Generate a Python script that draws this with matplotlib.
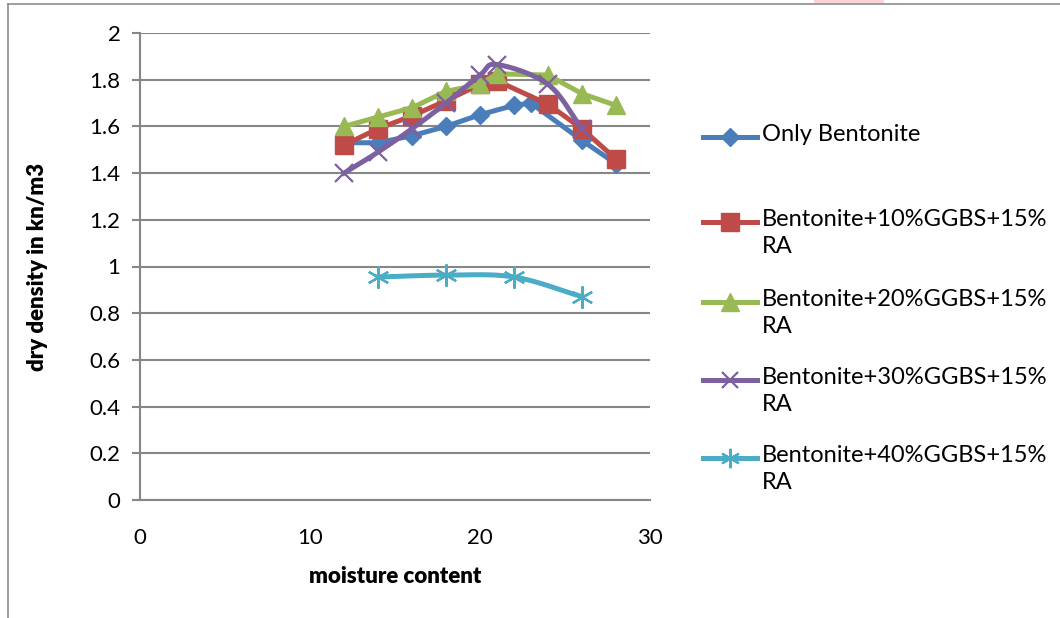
import numpy as np
import matplotlib.pyplot as plt
from matplotlib.lines import Line2D
from matplotlib.patches import Rectangle

plt.rcParams['font.family'] = ['Lato', 'DejaVu Sans']

# ---- data ----
x_only = [12, 14, 16, 18, 20, 22, 23, 26, 28]
y_only = [1.53, 1.53, 1.56, 1.60, 1.65, 1.69, 1.70, 1.54, 1.44]

x_10 = [12, 14, 16, 18, 20, 21, 24, 26, 28]
y_10 = [1.52, 1.59, 1.645, 1.71, 1.78, 1.795, 1.695, 1.59, 1.46]

x_20 = [12, 14, 16, 18, 20, 21, 24, 26, 28]
y_20 = [1.60, 1.64, 1.68, 1.75, 1.78, 1.825, 1.82, 1.74, 1.69]

x_30 = [12, 14, 16, 18, 20, 21, 24, 26]
y_30 = [1.40, 1.49, 1.59, 1.70, 1.82, 1.865, 1.78, 1.59]

x_40 = [14, 18, 22, 26]
y_40 = [0.955, 0.963, 0.955, 0.871]

labels = ['Only Bentonite', 'Bentonite+10%GGBS+15%\nRA', 'Bentonite+20%GGBS+15%\nRA',
          'Bentonite+30%GGBS+15%\nRA', 'Bentonite+40%GGBS+15%\nRA']
colors = ['#4A7EBB', '#BE4B48', '#98B954', '#7D60A0', '#4BACC6']


def smooth(xs, ys, n=30):
    # catmull-rom style curve through the points, like excel's smoothed line
    xs = np.asarray(xs, float)
    ys = np.asarray(ys, float)
    px = np.concatenate([[2 * xs[0] - xs[1]], xs, [2 * xs[-1] - xs[-2]]])
    py = np.concatenate([[2 * ys[0] - ys[1]], ys, [2 * ys[-1] - ys[-2]]])
    ox, oy = [], []
    t = np.linspace(0, 1, n)
    for i in range(1, len(px) - 2):
        for p, out in ((px, ox), (py, oy)):
            p0, p1, p2, p3 = p[i - 1], p[i], p[i + 1], p[i + 2]
            out.extend(0.5 * (2 * p1 + (-p0 + p2) * t + (2 * p0 - 5 * p1 + 4 * p2 - p3) * t ** 2
                              + (-p0 + 3 * p1 - 3 * p2 + p3) * t ** 3))
    return ox, oy


fig = plt.figure(figsize=(10.6, 6.18), dpi=100)
ax = fig.add_axes([140 / 1060, 1 - 500 / 618, 510 / 1060, 467 / 618])

lw = 3.6
ax.plot(x_only, y_only, color=colors[0], lw=lw, marker='D', ms=9, zorder=3)
ax.plot(x_10, y_10, color=colors[1], lw=lw, marker='s', ms=13, zorder=3)
ax.plot(x_20, y_20, color=colors[2], lw=lw, marker='^', ms=13, zorder=3)
sx, sy = smooth(x_30, y_30)
ax.plot(sx, sy, color=colors[3], lw=lw, zorder=4)
ax.plot(x_30, y_30, ls='none', color=colors[3], marker='x', ms=13, mew=1.6, zorder=4)
sx, sy = smooth(x_40, y_40)
ax.plot(sx, sy, color=colors[4], lw=lw, zorder=3)
ax.plot(x_40, y_40, ls='none', color=colors[4], marker=(6, 2, 0), ms=16, mew=1.6, zorder=3)

ax.set_xlim(0, 30)
ax.set_ylim(0, 2)
ax.set_xticks([0, 10, 20, 30])
ax.set_yticks(np.arange(0, 2.01, 0.2))
ax.set_yticklabels(['0', '0.2', '0.4', '0.6', '0.8', '1', '1.2', '1.4', '1.6', '1.8', '2'])
ax.yaxis.grid(True, color='#868686', lw=1.5)
ax.set_axisbelow(True)
for s in ['top', 'right']:
    ax.spines[s].set_visible(False)
for s in ['left', 'bottom']:
    ax.spines[s].set_color('#868686')
    ax.spines[s].set_linewidth(1.5)
ax.tick_params(axis='y', length=6, color='#868686', width=1.5, labelsize=16, pad=8)
ax.tick_params(axis='x', length=0, labelsize=16, pad=20)
ax.set_xlabel('moisture content', fontsize=16, fontweight='heavy', labelpad=13)
ax.set_ylabel('dry density in kn/m3', fontsize=16, fontweight='heavy', labelpad=30)

# legend drawn by hand: marker line beside the first text line
leg_y = [137, 222, 302, 380, 458]
mk = [('D', 9, 1), ('s', 13, 1), ('^', 13, 1), ('x', 12, 1.6), ((6, 2, 0), 14, 1.6)]
for i in range(5):
    yf = 1 - leg_y[i] / 618
    fig.add_artist(Line2D([703 / 1060, 757 / 1060], [yf, yf], color=colors[i], lw=lw))
    fig.add_artist(Line2D([730 / 1060], [yf], color=colors[i], marker=mk[i][0], ms=mk[i][1],
                          mew=mk[i][2], ls='none'))
    fig.text(762 / 1060, yf + 13 / 618, labels[i], fontsize=17, va='top', ha='left',
             linespacing=1.38)

# outer chart frame and crop leftover
fig.add_artist(Line2D([8 / 1060, 8 / 1060], [0, 1 - 4 / 618], color='#8c8c8c', lw=1.2))
fig.add_artist(Line2D([8 / 1060, 1], [1 - 4 / 618, 1 - 4 / 618], color='#8c8c8c', lw=1.2))
fig.add_artist(Rectangle((814 / 1060, 1 - 3 / 618), 70 / 1060, 3 / 618, color='#fbd5d5', lw=0))

fig.savefig('out.png', dpi=100)
